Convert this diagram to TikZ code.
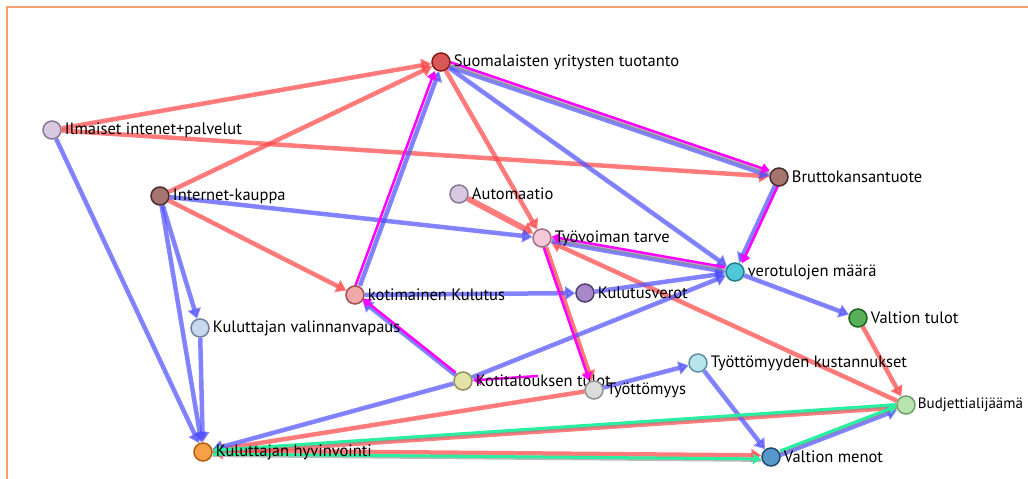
\documentclass[tikz,border=0pt]{standalone}
\usepackage{fontspec}
\setmainfont{PT Sans}
\usetikzlibrary{arrows.meta}
\pgfdeclarelayer{bg}
\pgfdeclarelayer{edges}
\pgfsetlayers{bg,edges,main}

% edge colours
\definecolor{ered}{RGB}{255,70,70}
\definecolor{eblue}{RGB}{80,80,255}
\definecolor{emag}{RGB}{255,0,255}
\definecolor{egreen}{RGB}{40,240,160}
\definecolor{frame}{RGB}{244,160,112}

% node colours (fill / border)
\definecolor{sytF}{RGB}{216,88,88}    \definecolor{sytD}{RGB}{139,26,26}
\definecolor{lilF}{RGB}{216,200,224}  \definecolor{lilD}{RGB}{138,122,153}
\definecolor{brnF}{RGB}{164,116,110}  \definecolor{brnD}{RGB}{74,42,42}
\definecolor{ttF}{RGB}{244,200,216}   \definecolor{ttD}{RGB}{160,112,128}
\definecolor{vmF}{RGB}{80,200,216}    \definecolor{vmD}{RGB}{32,128,144}
\definecolor{kkF}{RGB}{240,168,168}   \definecolor{kkD}{RGB}{160,80,80}
\definecolor{kvF}{RGB}{168,136,200}   \definecolor{kvD}{RGB}{80,64,112}
\definecolor{kvvF}{RGB}{200,216,236}  \definecolor{kvvD}{RGB}{112,128,160}
\definecolor{vtF}{RGB}{88,176,88}     \definecolor{vtD}{RGB}{32,96,32}
\definecolor{ktF}{RGB}{228,228,168}   \definecolor{ktD}{RGB}{144,144,96}
\definecolor{tyF}{RGB}{220,220,220}   \definecolor{tyD}{RGB}{144,144,144}
\definecolor{tkF}{RGB}{184,228,236}   \definecolor{tkD}{RGB}{96,144,160}
\definecolor{baF}{RGB}{184,228,176}   \definecolor{baD}{RGB}{112,160,112}
\definecolor{khF}{RGB}{248,160,72}    \definecolor{khD}{RGB}{176,96,16}
\definecolor{vmeF}{RGB}{88,152,200}   \definecolor{vmeD}{RGB}{32,72,112}

% a variable: circle plus its caption
\newcommand\varnode[5]{%
  \node[nd,fill=#4,draw=#5] (#1) at (#2) {};
  \node[lab] (#1-txt) at (#1.east) {#3};}

\begin{document}
\begin{tikzpicture}[x=1pt,y=-1pt,
  nd/.style={circle,line width=1.5pt,minimum size=18pt,inner sep=0pt},
  lab/.style={anchor=west,inner sep=0pt,xshift=3pt,font=\fontsize{16.5}{17}\selectfont},
  conn/.style={line width=4.5pt,opacity=0.7,-{Triangle[length=10pt,width=13pt]}},
  rl/.style={conn,draw=ered,fill=ered},
  bl/.style={conn,draw=eblue,fill=eblue},
  ml/.style={line width=2.5pt,draw=emag,-{Triangle[length=8pt,width=10pt]}},
  gl/.style={line width=3pt,draw=egreen,-{Triangle[length=8pt,width=10pt]}},
  shade/.style={line width=3pt,draw=black!45,opacity=0.6},
]
\useasboundingbox (0,0) rectangle (1028,479);
\begin{pgfonlayer}{bg}
\fill[white] (0,0) rectangle (1028,479);
\draw[frame,line width=1.5pt] (7,479) -- (7,7) -- (1028,7);
\end{pgfonlayer}

\varnode{SYT}{441,62}{Suomalaisten yritysten tuotanto}{sytF}{sytD}
\varnode{IIP}{52,130}{Ilmaiset intenet+palvelut}{lilF}{lilD}
\varnode{IK}{160,196}{Internet-kauppa}{brnF}{brnD}
\varnode{AU}{459,194}{Automaatio}{lilF}{lilD}
\varnode{TT}{542,238}{Työvoiman tarve}{ttF}{ttD}
\varnode{BKT}{779,177}{Bruttokansantuote}{brnF}{brnD}
\varnode{VM}{735,272}{verotulojen määrä}{vmF}{vmD}
\varnode{KK}{355,295}{kotimainen Kulutus}{kkF}{kkD}
\varnode{KV}{585,293}{Kulutusverot}{kvF}{kvD}
\varnode{KVV}{200,328}{Kuluttajan valinnanvapaus}{kvvF}{kvvD}
\varnode{VT}{858,318}{Valtion tulot}{vtF}{vtD}
\varnode{KT}{463,381}{Kotitalouksen tulot}{ktF}{ktD}
\varnode{TY}{594,390}{Työttömyys}{tyF}{tyD}
\varnode{TK}{698,363}{Työttömyyden kustannukset}{tkF}{tkD}
\node[nd,fill=baF,draw=baD] (BA) at (906,405) {};
\node[lab,xshift=-1pt,font=\fontsize{15}{16}\selectfont] (BA-txt) at (BA.east) {Budjettialijäämä};
\varnode{KH}{203,452}{Kuluttajan hyvinvointi}{khF}{khD}
\varnode{VME}{771,457}{Valtion menot}{vmeF}{vmeD}
\coordinate (KTm) at (538,376);

\begin{pgfonlayer}{edges}
% positive links
\draw[rl] (IIP) -- (SYT);
\draw[rl] (IK) -- (SYT);
\draw[rl] (IIP) -- (BKT);
\draw[rl] (SYT) -- (TT);
\draw[rl,line width=6pt] (AU) -- (TT);
\draw[rl] (IK) -- (KK);
\draw[rl] (BA) -- (TT);
\draw[rl] (VT) -- (BA);
\draw[rl] (TY) -- (KH);
\draw[rl,transform canvas={xshift=1pt}] (TT) -- (TY);
\draw[rl,transform canvas={yshift=-2pt}] (BA) -- (KH);
\draw[rl,transform canvas={yshift=1.5pt}] (KH) -- (VME);
% negative links
\draw[bl] (IIP) -- (KH);
\draw[bl] (IK) -- (KH);
\draw[bl] (IK) -- (KVV);
\draw[bl] (KVV) -- (KH);
\draw[bl] (IK) -- (TT);
\draw[bl,transform canvas={xshift=1.5pt}] (KK) -- (SYT);
\draw[bl,transform canvas={yshift=-2pt}] (SYT) -- (BKT);
\draw[bl] (SYT) -- (VM);
\draw[bl] (BKT) -- (VM);
\draw[bl,transform canvas={yshift=-1.5pt}] (TT) -- (VM);
\draw[bl] (KK) -- (KV);
\draw[bl] (KV) -- (VM);
\draw[bl] (KT) -- (VM);
\draw[bl] (KT) -- (KK);
\draw[bl] (KT) -- (KH);
\draw[bl] (VM) -- (VT);
\draw[bl] (TY) -- (TK);
\draw[bl] (TK) -- (VME);
\draw[bl,transform canvas={yshift=-1.5pt}] (VME) -- (BA);
% shadows under highlighted links
\draw[shade,transform canvas={yshift=0.5pt}] (SYT) -- (BKT);
\draw[shade,transform canvas={yshift=0.5pt}] (TT) -- (VM);
\draw[shade,transform canvas={yshift=-0.5pt}] (BA) -- (KH);
\draw[shade,transform canvas={yshift=-3.5pt}] (KH) -- (VME);
\draw[shade,transform canvas={yshift=1pt}] (VME) -- (BA);
% highlighted loops
\draw[ml,transform canvas={xshift=-3pt}] (KK) -- (SYT);
\draw[ml,transform canvas={yshift=3pt}] (SYT) -- (BKT);
\draw[ml,transform canvas={xshift=3pt}] (BKT) -- (VM);
\draw[ml,transform canvas={yshift=3pt}] (VM) -- (TT);
\draw[ml,transform canvas={xshift=-1.5pt}] (TT) -- (TY);
\draw[ml,transform canvas={yshift=2.5pt}] (KT) -- (KK);
\draw[ml] (KTm) -- (KT);
\draw[gl,transform canvas={yshift=1pt}] (BA) -- (KH);
\draw[gl,transform canvas={yshift=-2pt}] (KH) -- (VME);
\draw[gl,transform canvas={yshift=2.5pt}] (VME) -- (BA);
\end{pgfonlayer}
\end{tikzpicture}
\end{document}
